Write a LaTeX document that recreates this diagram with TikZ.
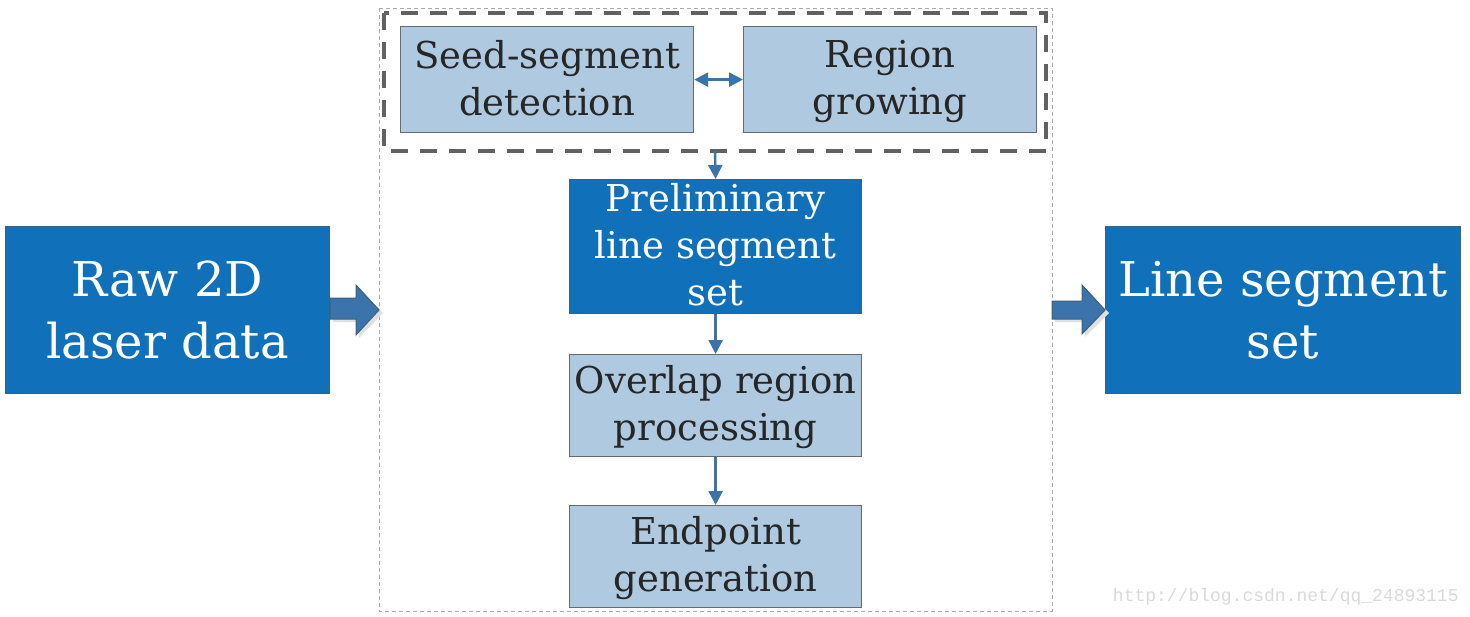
\documentclass[tikz,border=0pt]{standalone}
\usepackage{fontspec}
\setmainfont{DejaVu Serif}
\newfontfamily\wmfont{Liberation Mono}
\usetikzlibrary{arrows.meta}
\newcommand\mstrutx{\rule[-3.5pt]{0pt}{19pt}}
\newcommand\bstrutx{\rule[-3.5pt]{0pt}{24.5pt}}
\definecolor{darkblue}{HTML}{1070BA}
\definecolor{darkblueedge}{HTML}{3B5F86}
\definecolor{lightblue}{HTML}{AFC9E1}
\definecolor{boxedge}{HTML}{6A6A6A}
\definecolor{arrowblue}{HTML}{3A74AA}
\definecolor{arrowedge}{HTML}{3D5F80}
\definecolor{dashgray}{HTML}{616161}
\definecolor{outergray}{HTML}{AAAAAA}
\definecolor{wmgray}{HTML}{D9D9D9}
\tikzset{
  px/.style={x=0.5pt,y=-0.5pt},
  darkbox/.style={draw=darkblueedge, line width=0.6pt, fill=darkblue, text=white, align=center, inner sep=0pt, anchor=north west},
  lightbox/.style={draw=boxedge, line width=0.6pt, fill=lightblue, text=black!85, align=center, inner sep=0pt, anchor=north west},
  midtext/.style={font=\fontsize{18.5}{23.5}\selectfont},
  bigtext/.style={font=\fontsize{24}{31}\selectfont},
  conn/.style={draw=arrowblue, line width=1.2pt, -{Triangle[length=7pt,width=7pt]}},
  dconn/.style={draw=arrowblue, line width=1.2pt, {Triangle[length=7pt,width=7pt]}-{Triangle[length=7pt,width=7pt]}},
  fatarrow/.style={fill=arrowblue, draw=arrowedge, line width=0.5pt},
}
\begin{document}
\begin{tikzpicture}[px]
\useasboundingbox (0,0) rectangle (1470,616);
% outer dotted container
\draw[outergray, dashed, line width=0.5pt, dash pattern=on 2pt off 1.5pt] (379,8) rectangle (1052,611);
% inner dashed group
\draw[dashgray, line width=2pt, dash pattern=on 8.5pt off 6pt] (384,13) rectangle (1046,151);
\coordinate (grpbot) at (715,151);

% main nodes
\node[darkbox, bigtext, minimum width=162pt, minimum height=83.5pt] (raw) at (5,226) {\bstrutx Raw 2D\\\bstrutx laser data};
\node[darkbox, bigtext, minimum width=177.5pt, minimum height=83.5pt] (out) at (1105,226) {\bstrutx Line segment\\\bstrutx set};
\node[lightbox, midtext, minimum width=146.5pt, minimum height=53pt] (seed) at (400,26) {\mstrutx Seed-segment\\\mstrutx detection};
\node[lightbox, midtext, minimum width=146.5pt, minimum height=53pt] (grow) at (743,26) {\mstrutx Region\\\mstrutx growing};
\node[darkbox, midtext, minimum width=146pt, minimum height=67pt] (prelim) at (569,179) {\mstrutx Preliminary\\\mstrutx line segment\\\mstrutx set};
\node[lightbox, midtext, minimum width=146pt, minimum height=51pt] (overlap) at (569,354) {\mstrutx Overlap region\\\mstrutx processing};
\node[lightbox, midtext, minimum width=146pt, minimum height=51pt] (endp) at (569,505) {\mstrutx Endpoint\\\mstrutx generation};

% fat arrows with shadow
\fill[black!12] (333,301) -- (359,301) -- (359,288) -- (383,313) -- (359,338) -- (359,322) -- (333,322) -- cycle;
\draw[fatarrow] (330,298) -- (356,298) -- (356,285) -- (379,310) -- (356,335) -- (356,319) -- (330,319) -- cycle;
\fill[black!12] (1055,304) -- (1085,304) -- (1085,288) -- (1109,313) -- (1085,337) -- (1085,322) -- (1055,322) -- cycle;
\draw[fatarrow] (1052,301) -- (1082,301) -- (1082,285) -- (1105,310) -- (1082,334) -- (1082,319) -- (1052,319) -- cycle;

% connectors
\draw[dconn] (seed.east) -- (grow.west);
\draw[conn] (grpbot) -- (prelim.north);
\draw[conn] (prelim.south) -- (overlap.north);
\draw[conn] (overlap.south) -- (endp.north);

% watermark
\node[text=wmgray, font=\wmfont\fontsize{9}{11}\selectfont, inner sep=0pt, anchor=east] (wm) at (1459,597) {http://blog.csdn.net/qq\_24893115};
\end{tikzpicture}
\end{document}
